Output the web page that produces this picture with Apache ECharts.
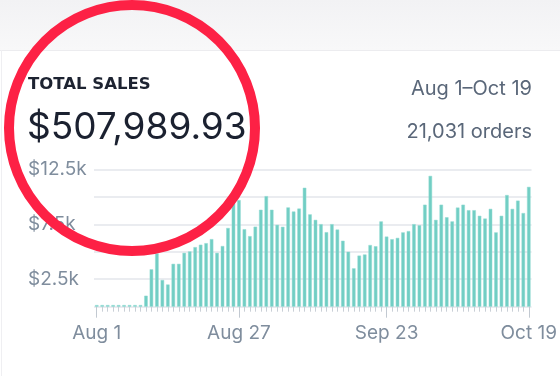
<!DOCTYPE html>
<html>
<head>
<meta charset="utf-8">
<script src="https://cdn.jsdelivr.net/npm/echarts@6/dist/echarts.min.js"></script>
<style>
html,body{margin:0;padding:0;background:#fff;}
#c{width:560px;height:376px;}
</style>
</head>
<body>
<div id="c"></div>
<script>
var categories = [
 'Aug 1','Aug 2','Aug 3','Aug 4','Aug 5','Aug 6','Aug 7','Aug 8','Aug 9','Aug 10',
 'Aug 11','Aug 12','Aug 13','Aug 14','Aug 15','Aug 16','Aug 17','Aug 18','Aug 19','Aug 20',
 'Aug 21','Aug 22','Aug 23','Aug 24','Aug 25','Aug 26','Aug 27','Aug 28','Aug 29','Aug 30','Aug 31',
 'Sep 1','Sep 2','Sep 3','Sep 4','Sep 5','Sep 6','Sep 7','Sep 8','Sep 9','Sep 10',
 'Sep 11','Sep 12','Sep 13','Sep 14','Sep 15','Sep 16','Sep 17','Sep 18','Sep 19','Sep 20',
 'Sep 21','Sep 22','Sep 23','Sep 24','Sep 25','Sep 26','Sep 27','Sep 28','Sep 29','Sep 30',
 'Oct 1','Oct 2','Oct 3','Oct 4','Oct 5','Oct 6','Oct 7','Oct 8','Oct 9','Oct 10',
 'Oct 11','Oct 12','Oct 13','Oct 14','Oct 15','Oct 16','Oct 17','Oct 18','Oct 19'
];
var sales = [
 150,150,150,150,150,150,150,150,150,1000,
 3400,4850,2430,2020,3900,3900,4900,5030,5420,5640,
 5780,6150,4900,5520,7160,9420,9700,7050,6420,7280,
 8820,10060,8820,7450,7270,9030,8660,8930,10820,8400,
 7900,7510,6780,7510,7020,6000,5000,3490,4650,4750,
 5610,5500,7760,6380,6140,6260,6760,6880,7510,7410,
 9280,11900,7900,9280,8140,7760,9020,9280,8780,8780,
 8270,8020,8900,6760,8270,10160,8900,9650,8520,10900
];
var labelIndexes = [0, 26, 53, 79];
var yTicks = [0, 2500, 5000, 7500, 10000, 12500];
var labeledY = [2500, 7500, 12500];
var headline = 'TOTAL SALES';
var total = '$507,989.93';
var range = 'Aug 1\u2013Oct 19';
var orders = '21,031 orders';

var FONT = 'Inter, "Noto Sans", sans-serif';
var chart = echarts.init(document.getElementById('c'));
var showIdx = function (i) { return labelIndexes.indexOf(i) >= 0; };

chart.setOption({
  animation: false,
  grid: { left: 94, right: 27, top: 169.3, bottom: 69.3 },
  xAxis: [{
    type: 'category',
    data: categories,
    axisLine: { show: false },
    axisTick: { show: true, alignWithLabel: true, interval: 0, length: 5, lineStyle: { color: '#c9cfd6', width: 1 } },
    axisLabel: { interval: function (i) { return showIdx(i); }, margin: 17, fontSize: 19, fontFamily: FONT, color: '#7f8d9d' }
  }, {
    type: 'category',
    data: categories,
    position: 'bottom',
    axisLine: { show: false },
    axisTick: { show: true, alignWithLabel: true, interval: function (i) { return showIdx(i); }, length: 11, lineStyle: { color: '#c2c9d1', width: 1 } },
    axisLabel: { show: false }
  }],
  yAxis: {
    type: 'value',
    min: yTicks[0],
    max: yTicks[yTicks.length - 1],
    interval: 2500,
    axisLine: { show: false },
    axisTick: { show: false },
    splitLine: { lineStyle: { color: '#e3e6eb', width: 1.5 } },
    axisLabel: {
      align: 'left', margin: 66, fontSize: 19, fontFamily: FONT, color: '#7f8d9d',
      formatter: function (v) { return labeledY.indexOf(v) >= 0 ? '$' + (v / 1000) + 'k' : ''; }
    }
  },
  series: [{
    type: 'bar',
    data: sales,
    barWidth: '64%',
    itemStyle: { color: '#71cec4', borderColor: '#93dbd3', borderWidth: 0.5 }
  }],
  graphic: [
    { type: 'rect', shape: { x: 0, y: 0, width: 560, height: 50 }, style: { fill: new echarts.graphic.LinearGradient(0, 0, 0, 1, [{ offset: 0, color: '#f2f2f4' }, { offset: 1, color: '#f8f8f9' }]) }, z: 0 },
    { type: 'line', shape: { x1: 0, y1: 50.5, x2: 560, y2: 50.5 }, style: { stroke: '#ececef', lineWidth: 1 }, z: 1 },
    { type: 'line', shape: { x1: 1.5, y1: 50, x2: 1.5, y2: 376 }, style: { stroke: '#efeff2', lineWidth: 1 }, z: 1 },
    { type: 'text', left: 28, top: 76, style: { text: headline, font: 'bold 16.5px "DejaVu Sans", sans-serif', fill: '#1d2331' }, z: 5 },
    { type: 'text', left: 27, top: 109.5, style: { text: total, font: '37px ' + FONT, fill: '#1b2130' }, z: 5 },
    { type: 'text', right: 28, top: 78.5, style: { text: range, font: '20px ' + FONT, fill: '#5a6779' }, z: 5 },
    { type: 'text', right: 28, top: 122, style: { text: orders, font: '20px ' + FONT, fill: '#5a6779' }, z: 5 },
    { type: 'circle', shape: { cx: 132, cy: 128, r: 123 }, style: { fill: 'none', stroke: '#fd2145', lineWidth: 10 }, z: 100 }
  ]
});
</script>
</body>
</html>
